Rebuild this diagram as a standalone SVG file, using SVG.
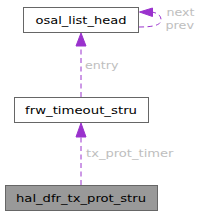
<svg xmlns="http://www.w3.org/2000/svg" width="201" height="216" viewBox="0 0 201 216">
<style>
.node rect{stroke:#666666;stroke-width:1}
.node text{font-family:"DejaVu Sans",sans-serif;font-size:11px;fill:#000000;text-anchor:middle}
.edge{stroke:#9a32cd;stroke-width:1;fill:none;stroke-dasharray:5,3.5}
.head{fill:#9a32cd;stroke:#9a32cd}
.lbl{font-family:"DejaVu Sans",sans-serif;font-size:11px;fill:#bebebe}
</style>
<rect width="201" height="216" fill="#ffffff"/>
<g id="connectors">
<path class="edge" d="M139,27 C150,27 161,26 161,20 C161,15 157,13 152,12"/>
<polygon class="head" points="152.5,8 152.5,16.5 139.5,12"/>
<text class="lbl" x="166.5" y="16" textLength="28" lengthAdjust="spacingAndGlyphs">next</text>
<text class="lbl" x="165.5" y="29" textLength="28.5" lengthAdjust="spacingAndGlyphs">prev</text>
<path class="edge" d="M81,97 V46"/>
<polygon class="head" points="76,46 86,46 81,33"/>
<text class="lbl" x="85" y="68.5" textLength="33.5" lengthAdjust="spacingAndGlyphs">entry</text>
<path class="edge" d="M81,185 V137"/>
<polygon class="head" points="76,137 86,137 81,123"/>
<text class="lbl" x="86" y="156.5" textLength="87.5" lengthAdjust="spacingAndGlyphs">tx_prot_timer</text>
</g>
<g id="osal_list_head" class="node">
<rect x="23.5" y="7.5" width="115" height="25" fill="#ffffff"/>
<text x="81" y="23.5" textLength="91" lengthAdjust="spacingAndGlyphs">osal_list_head</text>
</g>
<g id="frw_timeout_stru" class="node">
<rect x="14.5" y="97.5" width="134" height="25" fill="#ffffff"/>
<text x="81" y="113.5" textLength="112" lengthAdjust="spacingAndGlyphs">frw_timeout_stru</text>
</g>
<g id="hal_dfr_tx_prot_stru" class="node">
<rect x="5.5" y="185.5" width="152" height="25" fill="#999999"/>
<text x="81" y="201.5" textLength="130" lengthAdjust="spacingAndGlyphs">hal_dfr_tx_prot_stru</text>
</g>
</svg>
